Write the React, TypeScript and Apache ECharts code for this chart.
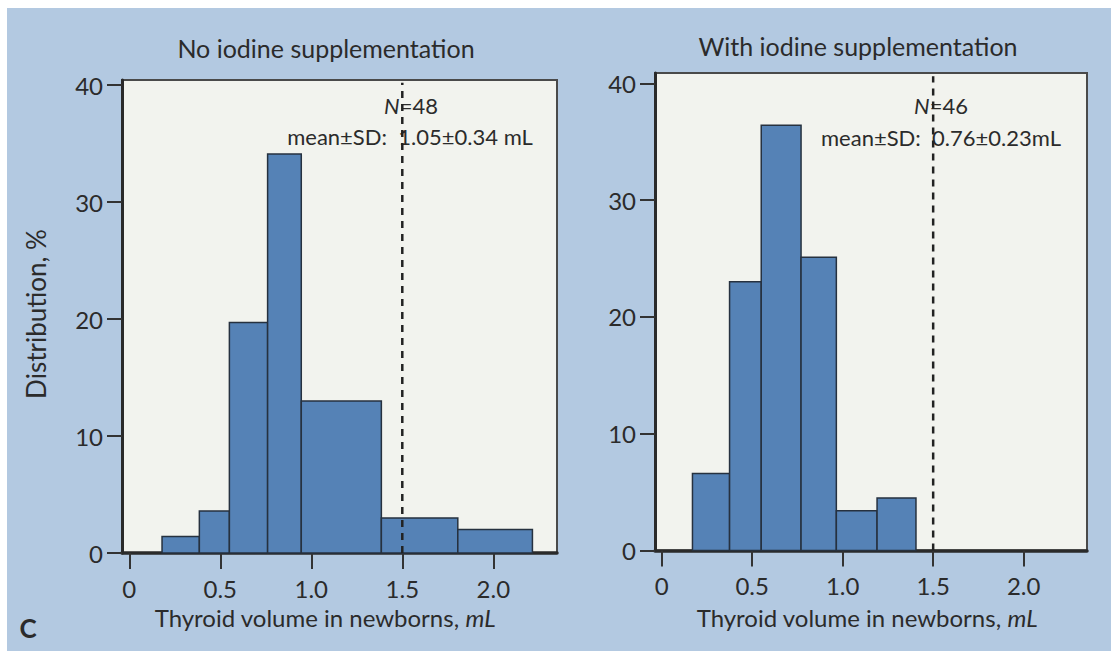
import React, { useEffect, useRef } from "react";
import * as echarts from "echarts";

// ---- data ----
const leftTitle = "No iodine supplementation";
const rightTitle = "With iodine supplementation";
const xAxisTitle = "Thyroid volume in newborns, ";
const xAxisUnit = "mL";
const yAxisTitle = "Distribution, %";
const xTicks = [0, 0.5, 1.0, 1.5, 2.0];
const yTicks = [0, 10, 20, 30, 40];
// bin edges (mL) and heights (%)
const leftEdges = [0.18, 0.385, 0.55, 0.76, 0.945, 1.385, 1.805, 2.215];
const leftValues = [1.4, 3.6, 19.7, 34.1, 13.0, 3.0, 2.0];
const rightEdges = [0.17, 0.375, 0.55, 0.77, 0.965, 1.19, 1.405];
const rightValues = [6.6, 23.0, 36.4, 25.1, 3.4, 4.5];
const refLine = 1.5;
const leftN = "=48";
const rightN = "=46";
const leftStat = "mean±SD:  1.05±0.34 mL";
const rightStat = "mean±SD:  0.76±0.23mL";
const panelLetter = "C";

const OX = 7;
const OY = 8;
const FONT = "Lato, 'Open Sans', sans-serif";
const TXT = "#2b2b2b";
const BG = "#b3c9e1";
const PLOT = "#f2f3ee";
const BAR = "#5582b6";
const BAR_EDGE = "#26313f";

function bins(edges: number[], vals: number[]) {
  return vals.map((v, i) => [edges[i], edges[i + 1], v]);
}

export default function App() {
  const ref = useRef<HTMLDivElement>(null);
  useEffect(() => {
    if (!ref.current) return;
    const chart = echarts.init(ref.current, undefined, { renderer: "svg" });

    const renderItem = (params: any, api: any) => {
      const p0 = api.coord([api.value(0), api.value(2)]);
      const p1 = api.coord([api.value(1), 0]);
      return {
        type: "rect",
        shape: { x: p0[0], y: p0[1], width: p1[0] - p0[0], height: p1[1] - p0[1] },
        style: { fill: BAR, stroke: BAR_EDGE, lineWidth: 1.5 },
      };
    };

    const xAxisCommon = (min: number, max: number, idx: number) => ({
      type: "value",
      gridIndex: idx,
      min,
      max,
      splitLine: { show: false },
      axisLine: { show: true, onZero: false, lineStyle: { color: "#2a2a2a", width: 3.5 } },
      axisTick: { show: true, length: 16, customValues: xTicks, lineStyle: { color: "#333", width: 2 } },
      axisLabel: {
        customValues: xTicks,
        margin: 23,
        color: TXT,
        fontSize: 24,
        fontFamily: FONT,
        formatter: (v: number) => (v === 0 ? "0" : v.toFixed(1)),
      },
    });
    const yAxisCommon = (max: number, idx: number) => ({
      type: "value",
      gridIndex: idx,
      min: 0,
      max,
      splitLine: { show: false },
      axisLine: { show: true, onZero: false, lineStyle: { color: "#2a2a2a", width: 3 } },
      axisTick: { show: true, length: 15, customValues: yTicks, lineStyle: { color: "#333", width: 2 } },
      axisLabel: {
        customValues: yTicks,
        margin: 19,
        color: TXT,
        fontSize: 24,
        fontFamily: FONT,
      },
    });

    const textStyle = (x: number, y: number, text: string, size: number, extra: any = {}) => ({
      type: "text",
      x: x - OX,
      y: y - OY,
      style: {
        text,
        fill: TXT,
        fontSize: size,
        fontFamily: FONT,
        align: "center",
        verticalAlign: "middle",
        ...extra,
      },
    });

    const richAxis = {
      a: { fontSize: 24, fontFamily: FONT, fill: TXT, color: TXT },
      b: { fontSize: 24, fontFamily: FONT, fontStyle: "italic", fill: TXT, color: TXT },
    };
    const richN = {
      a: { fontSize: 22, fontFamily: FONT, fontStyle: "italic", fill: TXT, color: TXT },
      b: { fontSize: 22, fontFamily: FONT, fill: TXT, color: TXT },
    };

    chart.setOption({
      animation: false,
      backgroundColor: BG,
      grid: [
        {
          left: 122 - OX,
          top: 80 - OY,
          width: 435,
          height: 473,
          show: true,
          backgroundColor: PLOT,
          borderColor: "#4a4a4a",
          borderWidth: 2,
        },
        {
          left: 655 - OX,
          top: 73 - OY,
          width: 432,
          height: 477.5,
          show: true,
          backgroundColor: PLOT,
          borderColor: "#4a4a4a",
          borderWidth: 2,
        },
      ],
      xAxis: [xAxisCommon(-0.04, 2.35, 0), xAxisCommon(-0.037, 2.35, 1)],
      yAxis: [yAxisCommon(40.43, 0), yAxisCommon(40.88, 1)],
      series: [
        {
          type: "custom",
          xAxisIndex: 0,
          yAxisIndex: 0,
          renderItem,
          encode: { x: [0, 1], y: 2 },
          data: bins(leftEdges, leftValues),
          z: 2,
        },
        {
          type: "custom",
          xAxisIndex: 1,
          yAxisIndex: 1,
          renderItem,
          encode: { x: [0, 1], y: 2 },
          data: bins(rightEdges, rightValues),
          z: 2,
        },
        {
          type: "line",
          xAxisIndex: 0,
          yAxisIndex: 0,
          symbol: "none",
          data: [
            [refLine, 0],
            [refLine, 40.2],
          ],
          lineStyle: { color: "#222", width: 2.5, type: [7, 6] },
          z: 3,
        },
        {
          type: "line",
          xAxisIndex: 1,
          yAxisIndex: 1,
          symbol: "none",
          data: [
            [refLine, 0],
            [refLine, 40.6],
          ],
          lineStyle: { color: "#222", width: 2.5, type: [7, 6] },
          z: 3,
        },
      ],
      graphic: [
        textStyle(326, 48, leftTitle, 25),
        textStyle(858, 46, rightTitle, 25),
        {
          type: "text",
          x: 36 - OX,
          y: 314 - OY,
          rotation: Math.PI / 2,
          style: {
            text: yAxisTitle,
            fill: TXT,
            fontSize: 26,
            fontFamily: FONT,
            align: "center",
            verticalAlign: "middle",
          },
        },
        textStyle(325, 617, `{a|${xAxisTitle}}{b|${xAxisUnit}}`, 24, { rich: richAxis }),
        textStyle(867, 617, `{a|${xAxisTitle}}{b|${xAxisUnit}}`, 24, { rich: richAxis }),
        textStyle(28, 628, panelLetter, 26, { fontWeight: "bold" }),
        textStyle(411, 105, `{a|N}{b|${leftN}}`, 22, { rich: richN }),
        textStyle(410, 136, leftStat, 22),
        textStyle(941, 105, `{a|N}{b|${rightN}}`, 22, { rich: richN }),
        textStyle(941, 137, rightStat, 22),
      ],
    });
    return () => chart.dispose();
  }, []);

  return (
    <div style={{ position: "fixed", left: 0, top: 0, width: 1111, height: 651, background: "#fff" }}>
      <div ref={ref} style={{ position: "absolute", left: OX, top: OY, width: 1111 - OX, height: 651 - OY }} />
    </div>
  );
}
